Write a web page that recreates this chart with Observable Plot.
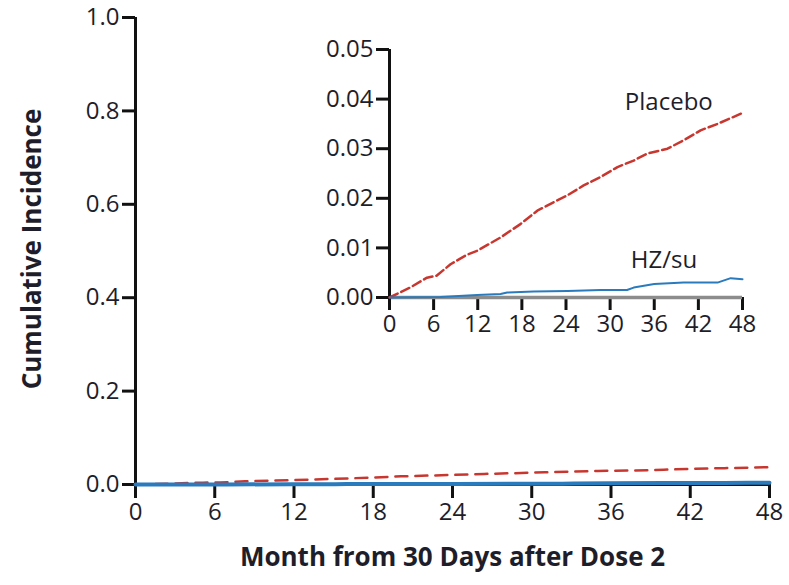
<!DOCTYPE html>
<html><head><meta charset="utf-8">
<script src="https://cdn.jsdelivr.net/npm/d3@7"></script>
<script src="https://cdn.jsdelivr.net/npm/@observablehq/plot@0.6"></script>
<style>
body{margin:0;background:#fff;}
#wrap{position:relative;width:789px;height:585px;}
#inset{position:absolute;left:300px;top:30px;}
</style></head><body><div id="wrap"><div id="main"></div><div id="inset"></div></div>
<script>
const placeboMonths = [0, 2.8, 5.1, 6.4, 8.3, 10.5, 11.9, 15.1, 17.8, 20.1, 22.3, 24.2, 26.4, 28.7, 31, 33.2, 35, 37.8, 40, 42.3, 44.6, 48];
const placeboValues = [0, 0.002, 0.004, 0.0044, 0.0067, 0.0086, 0.0094, 0.0121, 0.0148, 0.0175, 0.0192, 0.0206, 0.0226, 0.0243, 0.0263, 0.0276, 0.029, 0.030, 0.0317, 0.0337, 0.035, 0.0372];
const hzMonths = [0, 6.9, 11.9, 15.1, 16, 19.6, 24.2, 28.7, 32.3, 33.2, 36, 40, 44.6, 46.4, 48];
const hzValues = [0, 0.0001, 0.0005, 0.0007, 0.001, 0.0012, 0.0013, 0.0015, 0.0015, 0.002, 0.0027, 0.003, 0.003, 0.0039, 0.0037];
const xTicks = [0, 6, 12, 18, 24, 30, 36, 42, 48];
const mainYTicks = [0, 0.2, 0.4, 0.6, 0.8, 1.0];
const insetYTicks = [0, 0.01, 0.02, 0.03, 0.04, 0.05];
const seriesLabels = [
  {name: "Placebo", month: 32.0, value: 0.0393},
  {name: "HZ/su", month: 32.8, value: 0.0075}
];

const placebo = placeboMonths.map((m, i) => ({month: m, value: placeboValues[i]}));
const hz = hzMonths.map((m, i) => ({month: m, value: hzValues[i]}));

const FONT = "'Open Sans', 'DejaVu Sans', sans-serif";
const RED = "#c8372f";
const BLUE = "#2a7bbd";
const TXT = "#1e1e2a";

const main = Plot.plot({
  width: 789, height: 585,
  marginLeft: 135, marginRight: 20, marginTop: 17, marginBottom: 101,
  x: {domain: [0, 48]},
  y: {domain: [0, 1]},
  style: {fontFamily: FONT, fontSize: "24px", color: TXT, background: "white", overflow: "visible"},
  marks: [
    Plot.axisY({ticks: mainYTicks, tickFormat: d3.format(".1f"), tickSize: 13, tickPadding: 3, strokeWidth: 3, stroke: "#111", label: null}),
    Plot.axisX({ticks: xTicks, tickSize: 14, tickPadding: 4, strokeWidth: 3, stroke: "#111", label: null}),
    Plot.ruleX([0], {stroke: "#111", strokeWidth: 3, insetBottom: -14}),
    Plot.ruleY([0], {stroke: "#111", strokeWidth: 3}),
    Plot.line(placebo, {x: "month", y: "value", stroke: RED, strokeWidth: 2.5, strokeDasharray: "12,8"}),
    Plot.line(hz, {x: "month", y: "value", stroke: BLUE, strokeWidth: 4}),
    Plot.text(["Month from 30 Days after Dose 2"], {frameAnchor: "bottom", textAnchor: "middle", dy: 81, fontWeight: "bold", fill: TXT, fontSize: 26}),
    Plot.text(["Cumulative Incidence"], {frameAnchor: "left", textAnchor: "middle", dx: -103, dy: -2, rotate: -90, fontWeight: "bold", fill: TXT, fontSize: 26})
  ]
});
document.getElementById("main").appendChild(main);

const inset = Plot.plot({
  width: 470, height: 320,
  marginLeft: 89, marginRight: 28, marginTop: 19, marginBottom: 53,
  x: {domain: [0, 48]},
  y: {domain: [0, 0.05]},
  style: {fontFamily: FONT, fontSize: "24px", color: TXT, background: "transparent", overflow: "visible"},
  marks: [
    Plot.axisY({ticks: insetYTicks, tickFormat: d3.format(".2f"), tickSize: 13, tickPadding: 3, strokeWidth: 3, stroke: "#111", label: null}),
    Plot.axisX({ticks: xTicks, tickSize: 13, tickPadding: 4, strokeWidth: 3, stroke: "#111", label: null}),
    Plot.ruleY([0], {stroke: "#8c8c8c", strokeWidth: 3.5}),
    Plot.ruleX([0], {stroke: "#111", strokeWidth: 3, insetBottom: -13}),
    Plot.line(placebo, {x: "month", y: "value", stroke: RED, strokeWidth: 2.5, strokeDasharray: "9,4"}),
    Plot.line(hz, {x: "month", y: "value", stroke: BLUE, strokeWidth: 2}),
    Plot.text(seriesLabels, {x: "month", y: "value", text: "name", textAnchor: "start", fill: TXT, fontSize: 24})
  ]
});
document.getElementById("inset").appendChild(inset);
</script></body></html>
